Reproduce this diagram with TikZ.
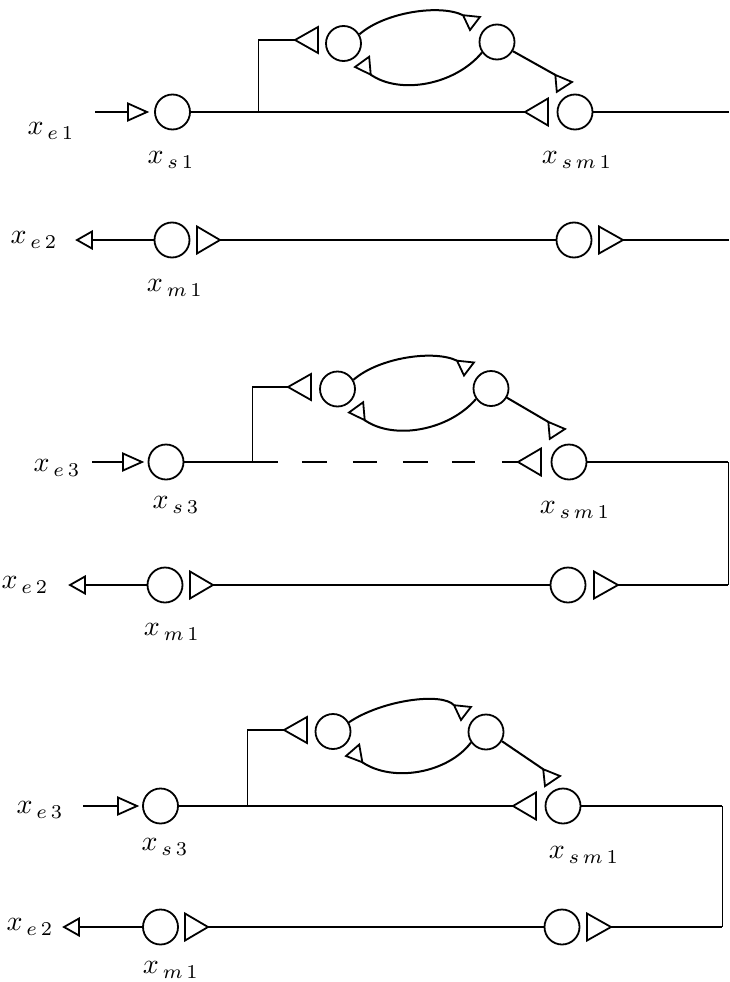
\documentclass[tikz,border=0pt]{standalone}
\newcommand\tri[5]{%
  \begin{scope}[shift={#2}, rotate=#3]
    \draw[trishape] (0,0) -- (-#4,#5) -- (-#4,-#5) -- cycle;
    \coordinate (#1) at (-#4,0);
    \coordinate (#1-tip) at (0,0);
    \coordinate (#1-c1) at (-#4,#5);
    \coordinate (#1-c2) at (-#4,-#5);
  \end{scope}}
\begin{document}
\begin{tikzpicture}[x=1pt,y=-1pt,
  ln/.style={line width=2pt},
  thinln/.style={line width=0.9pt},
  cnode/.style={circle, draw, line width=1.8pt, minimum size=35pt, inner sep=0pt},
  trishape/.style={draw, line width=1.8pt, fill=white, line join=miter},
  lab/.style={inner sep=0pt, scale=2.8}]
\useasboundingbox (0,0) rectangle (729,982);

% ================= Section 1 =================
\coordinate (a-in) at (95,112);
\tri{a-ti}{(147,112)}{0}{19}{8.5}
\draw[ln] (a-in) -- (a-ti);
\node[cnode] (a-s) at (172.5,112) {};
\tri{a-tsm}{(525,112)}{180}{23}{13.5}
\draw[ln] (a-s.east) -- (a-tsm-tip);
\node[cnode] (a-sm) at (575,112) {};
\coordinate (a-ru) at (729,112);
\draw[ln] (a-sm.east) -- (a-ru);
% loop
\coordinate (a-rb) at (258,112);
\coordinate (a-rt) at (258,40);
\tri{a-tl}{(295,40)}{180}{23}{13}
\draw[thinln] (a-rb) -- (a-rt);
\draw[ln] (a-rt) -- (a-tl-tip);
\node[cnode] (a-A) at (343.5,43.5) {};
\node[cnode] (a-B) at (497,42) {};
\tri{a-tu}{(470,30)}{-96}{14}{8.5}
\tri{a-tw}{(355,67)}{185}{15}{9}
\tri{a-td}{(572,82)}{5}{16}{8.5}
\draw[ln] (a-A.30) .. controls (385,12) and (440,4) .. (a-tu-c1);
\draw[ln] (a-B.215) .. controls (455,85) and (400,95) .. (a-tw-c2);
\draw[ln] (a-B.-30) -- (a-td-c2);
% lower row
\tri{a-to}{(77,240)}{180}{15}{8.5}
\node[cnode] (a-m) at (172,240) {};
\draw[ln] (a-m.west) -- (a-to);
\tri{a-tm}{(220,240)}{0}{23}{13.5}
\node[cnode] (a-mr) at (574,240) {};
\draw[ln] (a-tm-tip) -- (a-mr.west);
\tri{a-tmr}{(623,240)}{0}{24}{13.5}
\coordinate (a-rl) at (729,240);
\draw[ln] (a-tmr-tip) -- (a-rl);
% labels
\node[lab] (a-le) at (51,131) {$x_{\,e\,1}$};
\node[lab] (a-ls) at (171,160) {$x_{\,s\,1}$};
\node[lab] (a-lsm) at (577,160) {$x_{\,s\,m\,1}$};
\node[lab] (a-le2) at (34,240) {$x_{\,e\,2}$};
\node[lab] (a-lm) at (175,288) {$x_{\,m\,1}$};

% ================= Section 2 =================
\coordinate (b-in) at (92,462);
\tri{b-ti}{(142,462)}{0}{19}{8.5}
\draw[ln] (b-in) -- (b-ti);
\node[cnode] (b-s) at (166,462) {};
\tri{b-tsm}{(518,462)}{180}{23}{13.5}
\draw[ln, dash pattern=on 93.5pt off 24pt on 25pt off 26pt on 24pt off 26pt on 25pt off 24pt on 23pt off 27pt on 40pt] (b-s.east) -- (b-tsm-tip);
\node[cnode] (b-sm) at (569,462) {};
\coordinate (b-ru) at (728,462);
\draw[ln] (b-sm.east) -- (b-ru);
% loop
\coordinate (b-rb) at (252,462);
\coordinate (b-rt) at (252,387);
\tri{b-tl}{(288,387)}{180}{23}{13}
\draw[thinln] (b-rb) -- (b-rt);
\draw[ln] (b-rt) -- (b-tl-tip);
\node[cnode] (b-A) at (337.5,389) {};
\node[cnode] (b-B) at (491,388.5) {};
\tri{b-tu}{(464,375.5)}{-96}{14}{8.5}
\tri{b-tw}{(349,412.5)}{185}{15}{9}
\tri{b-td}{(565,429)}{5}{16}{8.5}
\draw[ln] (b-A.30) .. controls (379,357.5) and (434,349.5) .. (b-tu-c1);
\draw[ln] (b-B.215) .. controls (449,430.5) and (394,440.5) .. (b-tw-c2);
\draw[ln] (b-B.-30) -- (b-td-c2);
% lower row
\tri{b-to}{(70,585)}{180}{15}{8.5}
\node[cnode] (b-m) at (165,585) {};
\draw[ln] (b-m.west) -- (b-to);
\tri{b-tm}{(213,585)}{0}{23}{13.5}
\node[cnode] (b-mr) at (568,585) {};
\draw[ln] (b-tm-tip) -- (b-mr.west);
\tri{b-tmr}{(618,585)}{0}{24}{13.5}
\coordinate (b-rl) at (728,585);
\draw[ln] (b-tmr-tip) -- (b-rl);
\draw[thinln] (b-ru) -- (b-rl);
% labels
\node[lab] (b-le) at (57,468) {$x_{\,e\,3}$};
\node[lab] (b-ls) at (176,505) {$x_{\,s\,3}$};
\node[lab] (b-lsm) at (575,510) {$x_{\,s\,m\,1}$};
\node[lab] (b-le2) at (25,585) {$x_{\,e\,2}$};
\node[lab] (b-lm) at (172,632) {$x_{\,m\,1}$};

% ================= Section 3 =================
\coordinate (c-in) at (83,806);
\tri{c-ti}{(137,806)}{0}{19}{8.5}
\draw[ln] (c-in) -- (c-ti);
\node[cnode] (c-s) at (160.5,806) {};
\tri{c-tsm}{(513,806)}{180}{23}{13.5}
\draw[ln] (c-s.east) -- (c-tsm-tip);
\node[cnode] (c-sm) at (563,806) {};
\coordinate (c-ru) at (722,806);
\draw[ln] (c-sm.east) -- (c-ru);
% loop
\coordinate (c-rb) at (247,806);
\coordinate (c-rt) at (247,730);
\tri{c-tl}{(284,730)}{180}{23}{13}
\draw[thinln] (c-rb) -- (c-rt);
\draw[ln] (c-rt) -- (c-tl-tip);
\node[cnode] (c-A) at (333,731.5) {};
\node[cnode] (c-B) at (486,732) {};
\tri{c-tu}{(461,720)}{-96}{14}{8.5}
\tri{c-tw}{(346,756)}{190}{15}{9}
\tri{c-td}{(560,776)}{6}{16}{8.5}
\draw[ln] (c-A.30) .. controls (382,700) and (442,692) .. (c-tu-c1);
\draw[ln] (c-B.215) .. controls (448,773) and (393,783) .. (c-tw-c2);
\draw[ln] (c-B.-30) -- (c-td-c2);
% lower row
\tri{c-to}{(64,927)}{180}{15}{8.5}
\node[cnode] (c-m) at (160.5,927) {};
\draw[ln] (c-m.west) -- (c-to);
\tri{c-tm}{(208,927)}{0}{23}{13.5}
\node[cnode] (c-mr) at (562,927) {};
\draw[ln] (c-tm-tip) -- (c-mr.west);
\tri{c-tmr}{(611,927)}{0}{24}{13.5}
\coordinate (c-rl) at (722,927);
\draw[ln] (c-tmr-tip) -- (c-rl);
\draw[thinln] (c-ru) -- (c-rl);
% labels
\node[lab] (c-le) at (40,810) {$x_{\,e\,3}$};
\node[lab] (c-ls) at (165,847) {$x_{\,s\,3}$};
\node[lab] (c-lsm) at (584,855) {$x_{\,s\,m\,1}$};
\node[lab] (c-le2) at (30,927) {$x_{\,e\,2}$};
\node[lab] (c-lm) at (171,970) {$x_{\,m\,1}$};
\end{tikzpicture}
\end{document}
